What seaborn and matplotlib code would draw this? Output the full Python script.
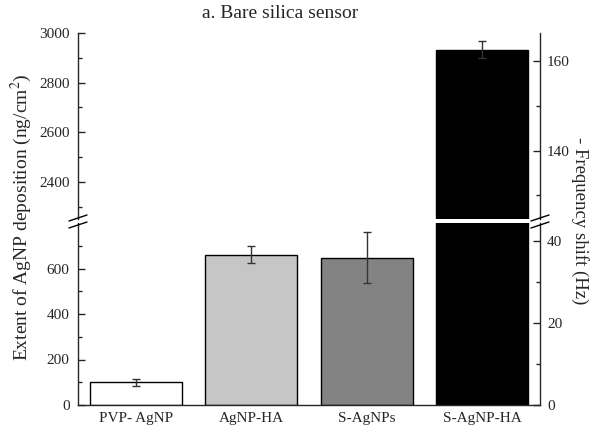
import numpy as np
import pandas as pd
import matplotlib
matplotlib.use("Agg")
import matplotlib.pyplot as plt
from matplotlib.ticker import FixedLocator
import seaborn as sns

# ---- data ----
categories = ["PVP- AgNP", "AgNP-HA", "S-AgNPs", "S-AgNP-HA"]
deposition = [100, 660, 648, 2932]          # ng/cm^2
deposition_err = [15, 37, 112, 34]
bar_colors = ["#ffffff", "#c6c6c6", "#838383", "#000000"]
conv = 18.04                                # ng/cm^2 per Hz

sns.set_style("ticks")
plt.rcParams["font.family"] = ["Liberation Serif", "DejaVu Serif"]
plt.rcParams["mathtext.fontset"] = "stix"
plt.rcParams["ytick.direction"] = "in"

df = pd.DataFrame({"cat": categories, "dep": deposition})

fig = plt.figure(figsize=(5.97, 4.29), dpi=100)
L, W = 78 / 597, 462 / 597
ax_top = fig.add_axes([L, 1 - 219 / 429, W, 186 / 429])
ax_bot = fig.add_axes([L, 1 - 405 / 429, W, 182 / 429])

for ax in (ax_top, ax_bot):
    sns.barplot(data=df, x="cat", y="dep", hue="cat", palette=bar_colors,
                edgecolor="black", linewidth=1.0, width=0.8, errorbar=None,
                legend=False, ax=ax)
    ax.errorbar(np.arange(len(categories)), deposition, yerr=deposition_err,
                fmt="none", ecolor="#333333", elinewidth=1.0, capsize=3,
                capthick=1.0)
    ax.set_xlim(-0.5, len(categories) - 0.5)
    ax.set_xlabel("")
    ax.set_ylabel("")
    ax.spines["top"].set_visible(False)
    ax.spines["right"].set_visible(False)
    ax.spines["left"].set_linewidth(1.0)
    ax.spines["bottom"].set_linewidth(1.0)

ax_top.set_ylim(2250, 3000)
ax_top.yaxis.set_major_locator(FixedLocator([2400, 2600, 2800, 3000]))
ax_top.yaxis.set_minor_locator(FixedLocator([2300, 2500, 2700, 2900]))
ax_top.spines["bottom"].set_visible(False)
ax_top.set_xticks([])

ax_bot.set_ylim(0, 800)
ax_bot.yaxis.set_major_locator(FixedLocator([0, 200, 400, 600]))
ax_bot.yaxis.set_minor_locator(FixedLocator([100, 300, 500, 700]))
ax_bot.tick_params(axis="x", length=0, labelsize=11, pad=5)

for ax in (ax_top, ax_bot):
    ax.tick_params(axis="y", which="major", direction="in", length=5,
                   width=1, labelsize=11, pad=6)
    ax.tick_params(axis="y", which="minor", direction="in", length=3, width=1)

# secondary (frequency) axes
f = lambda y: y / conv
finv = lambda hz: hz * conv
sec_top = ax_top.secondary_yaxis("right", functions=(f, finv))
sec_top.yaxis.set_major_locator(FixedLocator([140, 160]))
sec_top.yaxis.set_minor_locator(FixedLocator([130, 150]))
sec_bot = ax_bot.secondary_yaxis("right", functions=(f, finv))
sec_bot.yaxis.set_major_locator(FixedLocator([0, 20, 40]))
sec_bot.yaxis.set_minor_locator(FixedLocator([10, 30]))
for s in (sec_top, sec_bot):
    s.tick_params(axis="y", which="major", direction="in", length=5,
                  width=1, labelsize=11, pad=5)
    s.tick_params(axis="y", which="minor", direction="in", length=3, width=1)
    s.spines["right"].set_linewidth(1.0)

# break marks
for xf in (78 / 597, 540 / 597):
    for yp in (218, 225):
        fig.add_artist(plt.Line2D([xf - 9 / 597, xf + 9 / 597],
                                  [1 - (yp + 3) / 429, 1 - (yp - 3) / 429],
                                  color="black", lw=1.0))

fig.text(280 / 597, 1 - 14 / 429, "a. Bare silica sensor", ha="center",
         va="center", fontsize=14)
fig.text(21 / 597, 1 - 217 / 429, "Extent of AgNP deposition (ng/cm$^2$)",
         rotation=90, ha="center", va="center", fontsize=14)
fig.text(580 / 597, 1 - 221 / 429, "- Frequency shift (Hz)",
         rotation=270, ha="center", va="center", fontsize=13.5)

fig.savefig("out.png", dpi=100)
